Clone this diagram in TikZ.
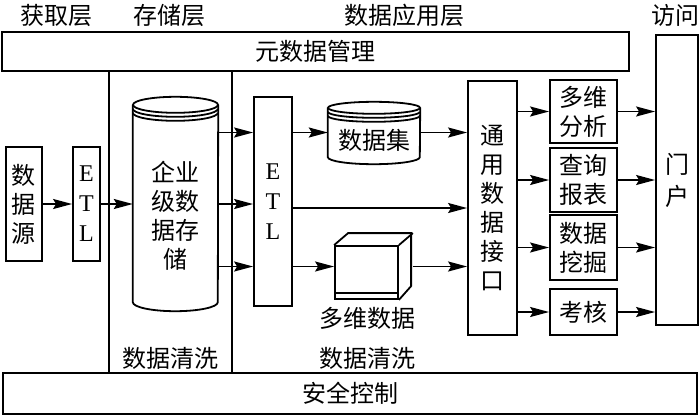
\documentclass[tikz,border=0pt]{standalone}
\usepackage{fontspec}
\setmainfont{Noto Sans CJK SC}
\newfontfamily\etlfont{Liberation Serif}
\usetikzlibrary{arrows.meta,calc}

\begin{document}
\begin{tikzpicture}[
    x=1pt, y=-1pt,
    every node/.style={font=\fontsize{24}{29}\selectfont},
    box/.style={rectangle, draw, line width=1.8pt, inner sep=0pt, align=center},
    body/.style={rectangle, inner sep=0pt, align=center},
    wire/.style={line width=1.8pt},
    arr/.style={line width=1.8pt, -{Stealth[length=19pt,width=10pt,inset=3pt]}}
]
\useasboundingbox (0,0) rectangle (700,418);

% Layer titles
\node (tget) at (56,15) {获取层};
\node (tstore) at (169,15) {存储层};
\node (tapp) at (404,15) {数据应用层};
\node (tvisit) at (675,15) {访问};

% Management bars
\node[box, minimum width=627pt, minimum height=39pt] (meta) at (315.5,51.5) {元数据管理};
\node[box, minimum width=694pt, minimum height=41pt] (safe) at (350,393.5) {安全控制};

% Layer dividers
\coordinate (d1) at (109,0);
\coordinate (d2) at (232,0);
\draw[wire] (meta.south -| d1) -- (safe.north -| d1);
\draw[wire] (meta.south -| d2) -- (safe.north -| d2);

% Acquisition
\node[box, minimum width=36pt, minimum height=114pt] (src) at (24,204) {数\\据\\源};
\node[box, minimum width=27pt, minimum height=114pt, font=\etlfont\fontsize{24}{30}\selectfont] (etl1) at (86.5,204) {E\\T\\L};

% Enterprise storage cylinder
\node[body, minimum width=85pt, minimum height=197pt] (store) at (175.5,203.5) {};
\draw[wire] (store.north west) -- (store.south west)
    arc[start angle=180, end angle=0, x radius=42.5, y radius=9] -- (store.north east);
\draw[wire, fill=white] (store.north) ellipse[x radius=42.5, y radius=8];
\draw[wire] ($(store.north west)+(0,4)$) arc[start angle=180, end angle=0, x radius=42.5, y radius=8];
\draw[wire] ($(store.north west)+(0,8)$) arc[start angle=180, end angle=0, x radius=42.5, y radius=8];
\node[align=center] (storetxt) at (175.5,216) {企业\\级数\\据存\\储};
\node (clean1) at (170,358) {数据清洗};

% Second ETL
\node[box, minimum width=38pt, minimum height=209pt, font=\etlfont\fontsize{24}{30}\selectfont] (etl2) at (273,201.5) {E\\T\\L};

% Data set cylinder
\node[body, minimum width=92pt, minimum height=49pt] (dset) at (374,132.5) {};
\draw[wire] (dset.north west) -- (dset.south west)
    arc[start angle=180, end angle=0, x radius=46, y radius=7] -- (dset.north east);
\draw[wire, fill=white] (dset.north) ellipse[x radius=46, y radius=6];
\draw[wire] ($(dset.north west)+(0,4)$) arc[start angle=180, end angle=0, x radius=46, y radius=6];
\draw[wire] ($(dset.north west)+(0,8)$) arc[start angle=180, end angle=0, x radius=46, y radius=6];
\node (dsettxt) at (374,140) {数据集};

% Multidimensional cube
\node[box, minimum width=63pt, minimum height=53pt] (cube) at (366.5,272.5) {};
\draw[wire] (cube.north west) -- ++(14,-12) -- ++(63,0) -- ++(0,53) -- (cube.south east);
\draw[wire] (cube.north east) -- ++(14,-12);
\draw[wire] ($(cube.south west)+(0,-7)$) -- ($(cube.south east)+(0,-7)$);
\coordinate (cubeout) at ($(cube.east)+(14,-6)$);
\node (cubelbl) at (367,318) {多维数据};
\node (clean2) at (367,358) {数据清洗};

% Interface, applications, portal
\node[box, minimum width=49pt, minimum height=254pt] (api) at (492.5,208) {通\\用\\数\\据\\接\\口};
\node[box, minimum width=67pt, minimum height=63pt] (a1) at (583.5,111.5) {多维\\分析};
\node[box, minimum width=67pt, minimum height=64pt] (a2) at (583.5,180) {查询\\报表};
\node[box, minimum width=67pt, minimum height=65pt] (a3) at (583.5,247.5) {数据\\挖掘};
\node[box, minimum width=67pt, minimum height=46pt] (a4) at (583.5,312) {考核};
\node[box, minimum width=42pt, minimum height=290pt, font=\fontsize{24}{32}\selectfont] (portal) at (677,180) {门\\户};

% Flows
\draw[arr] (src) -- (etl1);
\draw[arr] (etl1) -- (store.west |- etl1);
\draw[arr] (store.east |- dset) -- (etl2.west |- dset);
\draw[arr] (store.east |- etl1) -- (etl2.west |- etl1);
\draw[arr] (store.east |- cubeout) -- (etl2.west |- cubeout);
\draw[arr] (etl2.east |- dset) -- (dset.west);
\draw[arr] (etl2.east |- api) -- (api.west);
\draw[arr] (etl2.east |- cubeout) -- (cube.west |- cubeout);
\draw[arr] (dset.east) -- (api.west |- dset);
\draw[arr] (cubeout) -- (api.west |- cubeout);
\draw[arr] (api.east |- a1) -- (a1.west);
\draw[arr] (api.east |- a2) -- (a2.west);
\draw[arr] (api.east |- a3) -- (a3.west);
\draw[arr] (api.east |- a4) -- (a4.west);
\draw[arr] (a1.east) -- (portal.west |- a1);
\draw[arr] (a2.east) -- (portal.west |- a2);
\draw[arr] (a3.east) -- (portal.west |- a3);
\draw[arr] (a4.east) -- (portal.west |- a4);
\end{tikzpicture}
\end{document}
